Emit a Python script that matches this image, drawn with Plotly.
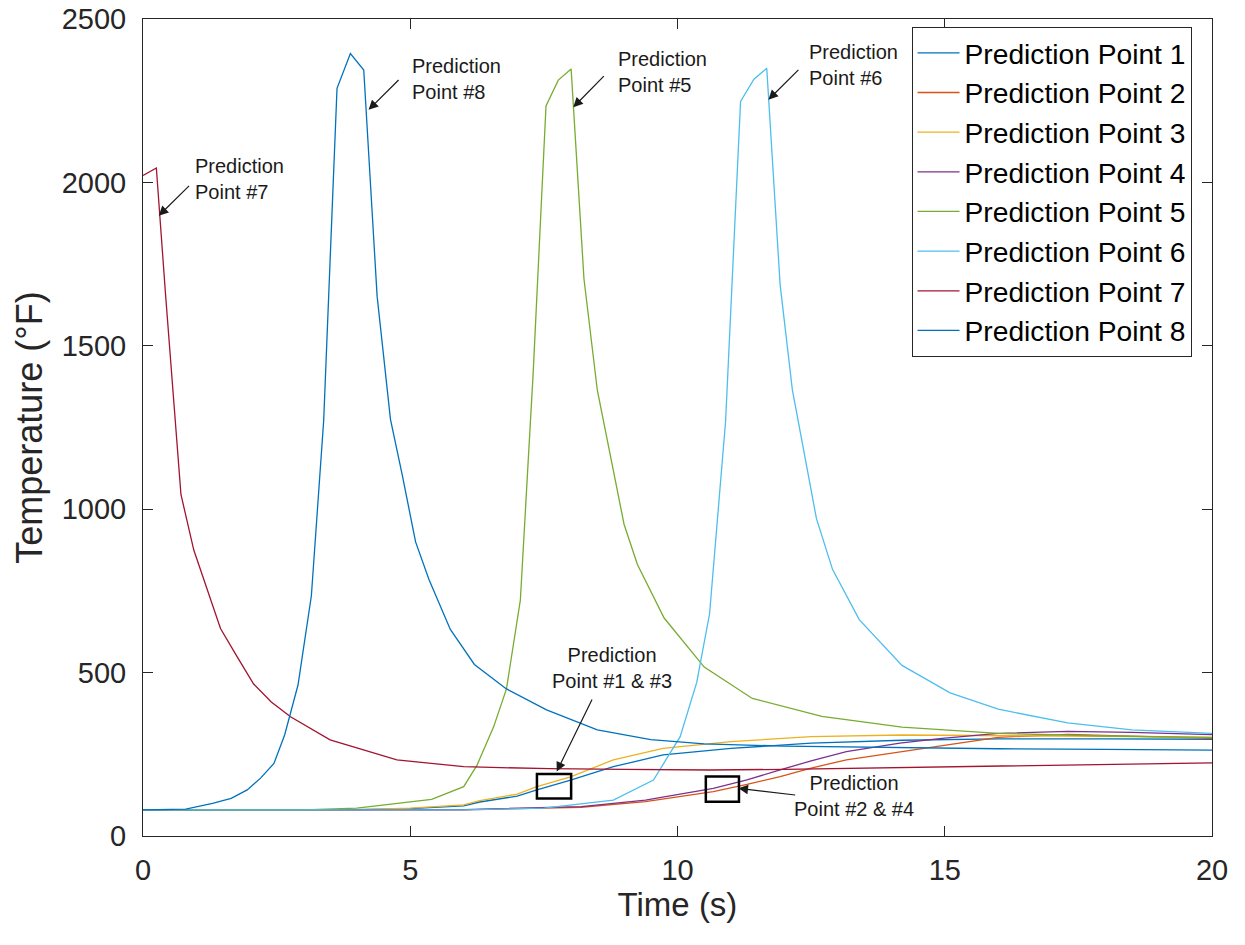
import plotly.graph_objects as go

# ---- temperature histories at the eight prediction points ----
t_pp1 = [0, 3, 4, 5, 6, 6.3, 7, 7.37, 8, 8.8, 9.73, 11, 12.5, 14.2, 16, 18, 20]
T_pp1 = [80, 80, 81, 84, 92, 104, 122, 141, 171, 212, 248, 268, 284, 293, 297, 297, 296]

t_pp2 = [0, 6, 8.2, 9.4, 10.67, 11.3, 11.92, 12.5, 13.16, 14.16, 14.9, 16, 17.3, 18.5, 20]
T_pp2 = [80, 80, 88, 105, 136, 158, 182, 208, 233, 258, 275, 302, 311, 306, 299]

t_pp3 = [0, 3, 4, 5, 6, 6.3, 7, 7.37, 8, 8.8, 9.73, 11, 12.5, 14.2, 16, 18, 20]
T_pp3 = [80, 80, 81, 85, 95, 108, 128, 151, 181, 233, 268, 289, 304, 309, 308, 305, 302]

t_pp4 = [0, 6, 8.2, 9.4, 10.67, 11.3, 11.92, 12.5, 13.16, 14.16, 14.9, 16, 17.3, 18.5, 20]
T_pp4 = [80, 81, 90, 110, 146, 172, 202, 230, 258, 284, 298, 314, 320, 317, 310]

t_pp5 = [0, 3, 4, 4.75, 5.4, 6.0, 6.25, 6.56, 6.8, 7.06, 7.3, 7.54, 7.77, 8.01,
         8.25, 8.5, 8.75, 9.0, 9.25, 9.75, 10.5, 11.4, 12.7, 14.2, 16, 18, 20]
T_pp5 = [80, 80, 85, 100, 112, 151, 217, 334, 450, 722, 1418, 2234, 2313, 2347,
         1705, 1364, 1160, 954, 831, 667, 517, 421, 366, 333, 314, 306, 302]

t_pp6 = [0, 6, 7.5, 8.8, 9.55, 10.05, 10.36, 10.6, 10.9, 11.18, 11.43, 11.67,
         11.92, 12.15, 12.6, 12.9, 13.4, 14.2, 15.1, 16, 17.3, 18.5, 20]
T_pp6 = [80, 80, 85, 110, 171, 304, 470, 680, 1270, 2248, 2316, 2349,
         1687, 1364, 971, 816, 662, 522, 438, 388, 346, 325, 314]

t_pp7 = [0, 0.25, 0.42, 0.58, 0.71, 0.95, 1.26, 1.45, 1.76, 2.07, 2.4, 2.76,
         3.5, 4.75, 6.0, 7.6, 9, 10.6, 12, 13.5, 15, 16.5, 18, 20]
T_pp7 = [2021, 2044, 1661, 1309, 1045, 875, 726, 635, 549, 465, 410, 365,
         294, 233, 212, 206, 204, 202, 204, 208, 211, 215, 219, 224]

t_pp8 = [0, 0.8, 1.3, 1.65, 1.95, 2.2, 2.45, 2.65, 2.9, 3.15, 3.38, 3.63, 3.88,
         4.13, 4.38, 4.63, 4.85, 5.1, 5.35, 5.75, 6.2, 6.8, 7.55, 8.5, 9.5,
         10.5, 12, 14, 16, 18, 20]
T_pp8 = [80, 82, 100, 115, 141, 177, 222, 309, 462, 735, 1270, 2288, 2394,
         2344, 1652, 1275, 1105, 900, 785, 632, 525, 450, 386, 325, 295,
         282, 275, 270, 267, 265, 263]

series_names = ["Prediction Point 1", "Prediction Point 2", "Prediction Point 3",
                "Prediction Point 4", "Prediction Point 5", "Prediction Point 6",
                "Prediction Point 7", "Prediction Point 8"]
series_t = [t_pp1, t_pp2, t_pp3, t_pp4, t_pp5, t_pp6, t_pp7, t_pp8]
series_T = [T_pp1, T_pp2, T_pp3, T_pp4, T_pp5, T_pp6, T_pp7, T_pp8]
series_colors = ["#0072BD", "#D95319", "#EDB120", "#7E2F8E",
                 "#77AC30", "#4DBEEE", "#A2142F", "#0072BD"]

x_ticks = [0, 5, 10, 15, 20]
y_ticks = [0, 500, 1000, 1500, 2000, 2500]

# callouts: label text, label position, label alignment, arrow tail, arrow tip
callouts = [
    ("Prediction<br>Point #7", (0.93, 2010), "left", (0.89, 1994), (0.295, 1898)),
    ("Prediction<br>Point #8", (5.0, 2315), "left", (4.81, 2318), (4.22, 2222)),
    ("Prediction<br>Point #5", (8.85, 2339), "left", (8.65, 2330), (8.05, 2230)),
    ("Prediction<br>Point #6", (12.415, 2360), "left", (12.29, 2349), (11.70, 2253)),
    ("Prediction<br>Point #1 & #3", (8.776, 513), "center", (8.415, 422), (7.74, 197)),
    ("Prediction<br>Point #2 & #4", (13.31, 123), "center", (12.23, 125), (11.14, 146)),
]
# highlighted regions (x0, x1, y0, y1)
boxes = [(7.37, 8.01, 115, 190), (10.53, 11.15, 105, 182)]

FONT = "Liberation Sans, Arial, Helvetica, sans-serif"
AX = "#262626"

fig = go.Figure()
for name, tt, TT, col in zip(series_names, series_t, series_T, series_colors):
    fig.add_trace(go.Scatter(x=tt, y=TT, mode="lines", name=name,
                             line=dict(color=col, width=1.3)))

annotations = []
for text, (lx, ly), align, (axx, ayy), (tx, ty) in callouts:
    annotations.append(dict(
        x=lx, y=ly, xref="x", yref="y", text=text, showarrow=False,
        xanchor=align, yanchor="middle", align=align,
        font=dict(family=FONT, size=20, color="#1a1a1a")))
    annotations.append(dict(
        x=tx, y=ty, ax=axx, ay=ayy, xref="x", yref="y", axref="x", ayref="y",
        text="", showarrow=True, arrowhead=2, arrowsize=1.6, arrowwidth=1.2,
        arrowcolor="#1a1a1a", standoff=0, startstandoff=0))

shapes = []
for x0, x1, y0, y1 in boxes:
    shapes.append(dict(type="rect", xref="x", yref="y", x0=x0, x1=x1, y0=y0, y1=y1,
                       line=dict(color="black", width=2.5), fillcolor="rgba(0,0,0,0)"))

L, R, T, B = 142.5, 32.5, 19, 109
W, H = 1245, 945
pw, ph = W - L - R, H - T - B

fig.update_layout(
    width=W, height=H,
    margin=dict(l=L, r=R, t=T, b=B, pad=0, autoexpand=False),
    paper_bgcolor="white", plot_bgcolor="white",
    font=dict(family=FONT, color=AX),
    showlegend=True,
    legend=dict(
        x=(1192 - L) / pw, y=(H - B - 27) / ph, xanchor="right", yanchor="top",
        bgcolor="white", bordercolor=AX, borderwidth=1,
        font=dict(family=FONT, size=28.2, color="black"),
        tracegroupgap=0, itemwidth=42),
    annotations=annotations,
    shapes=shapes,
)
fig.update_xaxes(
    range=[0, 20], tickvals=x_ticks, ticks="inside", ticklen=10, tickwidth=1,
    tickcolor=AX, showline=True, linecolor=AX, linewidth=1, mirror="ticks",
    showgrid=False, zeroline=False, automargin=False,
    tickfont=dict(family=FONT, size=29, color=AX), ticklabelstandoff=8,
    title=dict(text="Time (s)", font=dict(family=FONT, size=33, color=AX), standoff=8),
)
fig.update_yaxes(
    range=[0, 2500], tickvals=y_ticks, ticks="inside", ticklen=10, tickwidth=1,
    tickcolor=AX, showline=True, linecolor=AX, linewidth=1, mirror="ticks",
    showgrid=False, zeroline=False, automargin=False,
    tickfont=dict(family=FONT, size=29, color=AX), ticklabelstandoff=10,
    title=dict(text="Temperature (°F)", font=dict(family=FONT, size=36, color=AX), standoff=8),
)

fig.write_html("out.html")
